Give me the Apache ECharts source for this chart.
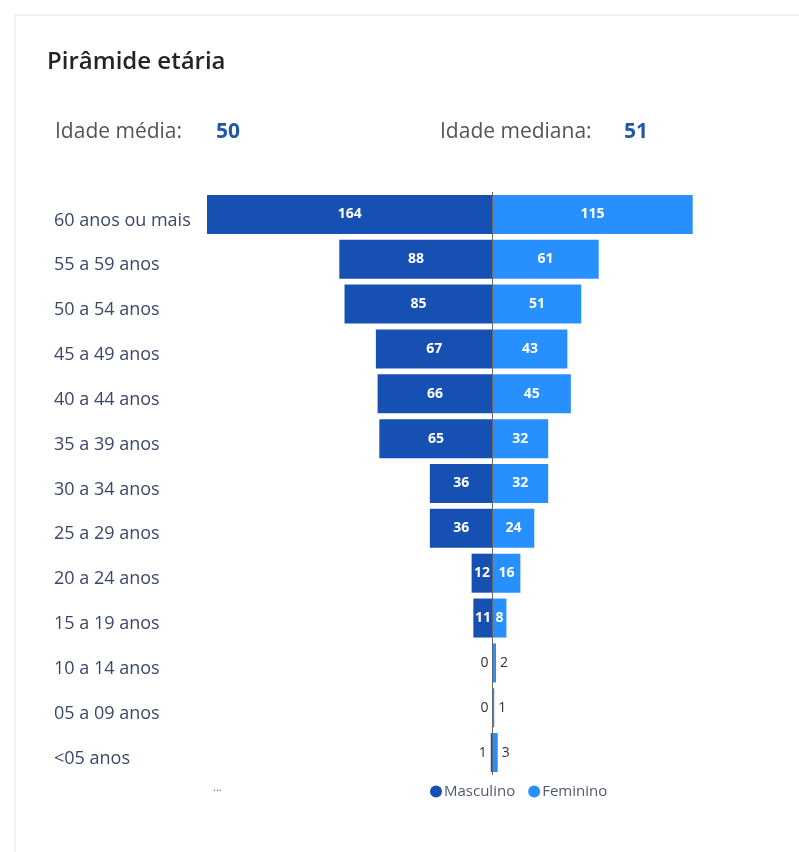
<!DOCTYPE html>
<html>
<head>
<meta charset="utf-8">
<script src="https://cdn.jsdelivr.net/npm/echarts@6/dist/echarts.min.js"></script>
<style>
    html, body { margin: 0; padding: 0; background: #fff; }
    #chart { width: 799px; height: 852px; }
</style>
</head>
<body>
<div id="chart"></div>
<script>
    // faixas etárias, de cima para baixo
    var categories = ['60 anos ou mais', '55 a 59 anos', '50 a 54 anos', '45 a 49 anos', '40 a 44 anos',
        '35 a 39 anos', '30 a 34 anos', '25 a 29 anos', '20 a 24 anos', '15 a 19 anos',
        '10 a 14 anos', '05 a 09 anos', '<05 anos'];
    var masculino = [164, 88, 85, 67, 66, 65, 36, 36, 12, 11, 0, 0, 1];
    var feminino = [115, 61, 51, 43, 45, 32, 32, 24, 16, 8, 2, 1, 3];
    var idadeMedia = 50;
    var idadeMediana = 51;

    var FONT = '"Open Sans", "Segoe UI", sans-serif';
    var AZUL_ESCURO = '#1650b3';
    var AZUL_CLARO = '#2890fe';

    // valores pequenos: rótulo fica do lado de fora da barra
    function buildData(arr, sign) {
        return arr.map(function (v) {
            var item = { value: sign * v };
            if (v < 5) {
                item.label = {
                    position: sign < 0 ? 'left' : 'right',
                    color: '#333',
                    fontWeight: 'normal',
                    distance: 4
                };
            }
            return item;
        });
    }

    var myChart = echarts.init(document.getElementById('chart'));
    var option = {
        animation: false,
        textStyle: { fontFamily: FONT },
        graphic: [
            {
                type: 'rect',
                shape: { x: 15, y: 15, width: 800, height: 850 },
                style: { fill: '#fff', stroke: '#e6e6e6', lineWidth: 1 },
                z: -10
            },
            {
                type: 'text', left: 47, top: 50,
                style: { text: 'Pirâmide etária', font: '600 24px ' + FONT, fill: '#252423' }
            },
            {
                type: 'text', left: 55, top: 122,
                style: { text: 'Idade média:', font: '21px ' + FONT, fill: '#555' }
            },
            {
                type: 'text', left: 216, top: 122,
                style: { text: String(idadeMedia), font: 'bold 21px ' + FONT, fill: '#1f58a8' }
            },
            {
                type: 'text', left: 440, top: 122,
                style: { text: 'Idade mediana:', font: '21px ' + FONT, fill: '#555' }
            },
            {
                type: 'text', left: 624, top: 122,
                style: { text: String(idadeMediana), font: 'bold 21px ' + FONT, fill: '#1f58a8' }
            },
            {
                type: 'text', left: 213, top: 782,
                style: { text: '...', font: '11px ' + FONT, fill: '#666' }
            }
        ],
        legend: {
            data: ['Masculino', 'Feminino'],
            left: 430,
            top: 784,
            icon: 'circle',
            itemWidth: 12,
            itemHeight: 12,
            itemGap: 13,
            padding: 0,
            textStyle: { fontSize: 15, color: '#505a6e', fontFamily: FONT, padding: [0, 0, 0, -3] }
        },
        grid: {
            left: 207,
            right: 21,
            top: 192,
            bottom: 77
        },
        xAxis: {
            type: 'value',
            min: -164,
            max: 164,
            show: false,
            splitLine: { show: false }
        },
        yAxis: {
            type: 'category',
            data: categories,
            inverse: true,
            axisLine: { show: false },
            axisTick: { show: false },
            axisLabel: {
                align: 'left',
                margin: 153,
                fontSize: 18,
                color: '#3b4868',
                fontFamily: FONT,
                verticalAlign: 'top',
                lineHeight: 12
            }
        },
        series: [
            {
                name: 'Masculino',
                type: 'bar',
                stack: 'total',
                barWidth: 39,
                data: buildData(masculino, -1),
                itemStyle: { color: AZUL_ESCURO },
                label: {
                    show: true,
                    position: 'inside',
                    color: '#fff',
                    fontSize: 14,
                    fontWeight: 'bold',
                    fontFamily: FONT,
                    formatter: function (p) { return Math.abs(p.value); }
                },
                markLine: {
                    silent: true,
                    symbol: 'none',
                    label: { show: false },
                    lineStyle: { color: '#666', type: 'solid', width: 1 },
                    data: [{ xAxis: 0 }],
                    z: 10
                }
            },
            {
                name: 'Feminino',
                type: 'bar',
                stack: 'total',
                barWidth: 39,
                data: buildData(feminino, 1),
                itemStyle: { color: AZUL_CLARO },
                label: {
                    show: true,
                    position: 'inside',
                    color: '#fff',
                    fontSize: 14,
                    fontWeight: 'bold',
                    fontFamily: FONT
                }
            }
        ]
    };
    myChart.setOption(option);
</script>
</body>
</html>
